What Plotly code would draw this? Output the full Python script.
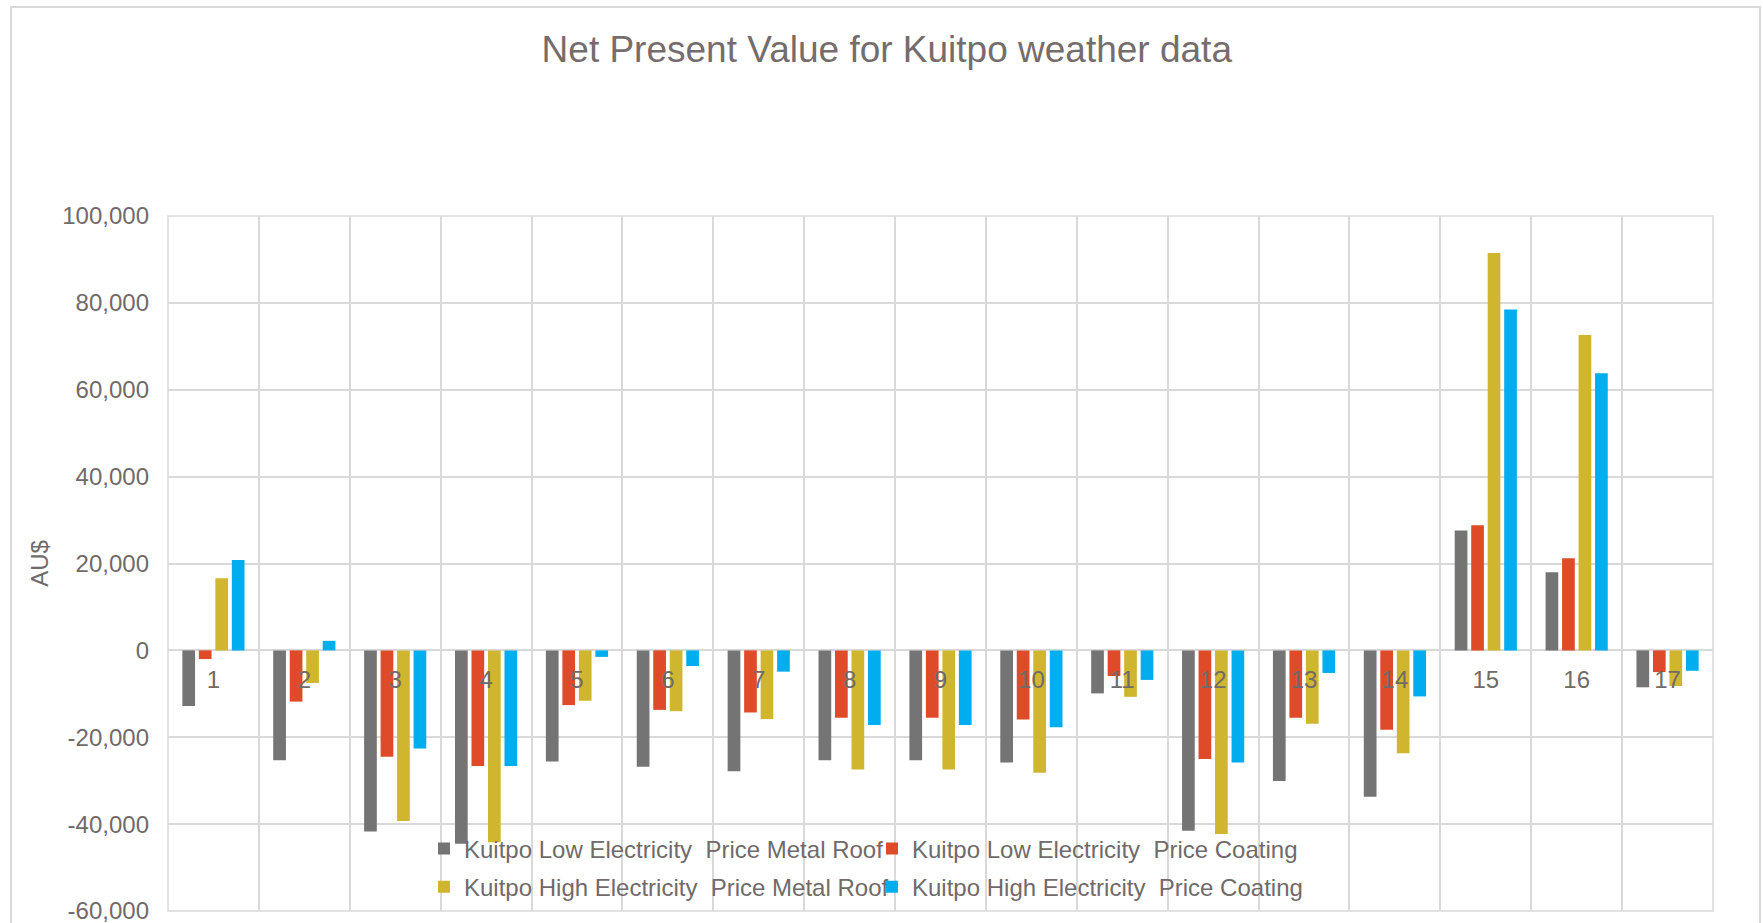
import plotly.graph_objects as go

# Scenario index on the x axis
categories = [str(i) for i in range(1, 18)]

# Net present value (AU$) per scenario
low_metal_roof = [-12800, -25300, -41700, -44500, -25600, -26800, -27800, -25300, -25300,
                  -25800, -9900, -41500, -30100, -33700, 27600, 18000, -8500]
low_coating = [-2000, -11800, -24500, -26600, -12600, -13700, -14300, -15500, -15500,
               -15900, -5900, -25000, -15500, -18300, 28800, 21200, -5000]
high_metal_roof = [16600, -7500, -39300, -44200, -11600, -14000, -15800, -27400, -27400,
                   -28200, -10700, -42300, -16900, -23700, 91500, 72600, -8200]
high_coating = [20800, 2200, -22600, -26600, -1500, -3600, -4900, -17200, -17200,
                -17700, -6800, -25800, -5200, -10600, 78500, 63800, -4700]

series_names = [
    "Kuitpo Low Electricity\u00a0\u00a0Price Metal Roof",
    "Kuitpo Low Electricity\u00a0\u00a0Price Coating",
    "Kuitpo High Electricity\u00a0\u00a0Price Metal Roof",
    "Kuitpo High Electricity\u00a0\u00a0Price Coating",
]

y_tick_values = [-60000, -40000, -20000, 0, 20000, 40000, 60000, 80000, 100000]
y_tick_labels = ["-60,000", "-40,000", "-20,000", "0", "20,000", "40,000",
                 "60,000", "80,000", "100,000"]

colors = ["#747474", "#DF4A29", "#D0B62F", "#00ADEE"]
text_color = "#716a6a"
grid_color = "#d9d9d9"
font_family = "Liberation Sans, Arial, sans-serif"

fig = go.Figure()
all_series = [low_metal_roof, low_coating, high_metal_roof, high_coating]
legend_ids = ["legend", "legend", "legend2", "legend2"]
for name, values, color, leg in zip(series_names, all_series, colors, legend_ids):
    fig.add_trace(go.Bar(
        x=categories, y=values, name=name,
        marker=dict(color=color, line=dict(width=0)),
        legend=leg,
    ))

legend_common = dict(
    orientation="h",
    x=0.1657, xanchor="left",
    bgcolor="rgba(0,0,0,0)",
    font=dict(family=font_family, size=24, color=text_color),
    entrywidth=403, entrywidthmode="pixels",
    itemclick=False, itemdoubleclick=False,
)

fig.update_layout(
    width=1763, height=923,
    margin=dict(l=168, r=50, t=216, b=12),
    paper_bgcolor="white",
    plot_bgcolor="white",
    barmode="group",
    bargap=0.274,
    bargroupgap=0.23,
    font=dict(family=font_family, color=text_color),
    title=dict(
        text="Net Present Value for Kuitpo weather data",
        font=dict(family=font_family, size=37, color="#756d6d"),
        x=0.503, xref="container", xanchor="center",
        y=1 - 49 / 923, yref="container", yanchor="middle",
    ),
    legend=dict(legend_common, y=0.0892, yanchor="middle"),
    legend2=dict(legend_common, y=0.002, yanchor="bottom"),
    xaxis=dict(
        type="category",
        anchor="free", position=0.375,
        automargin=False,
        showgrid=True, gridcolor=grid_color, gridwidth=1.5,
        tickson="boundaries",
        ticks="", showline=False, zeroline=False,
        tickfont=dict(family=font_family, size=24, color=text_color),
        ticklabelstandoff=13,
    ),
    yaxis=dict(
        range=[-60000, 100000],
        automargin=False,
        tickvals=y_tick_values, ticktext=y_tick_labels,
        ticklabeloverflow="allow",
        showgrid=True, gridcolor=grid_color, gridwidth=1.5,
        zeroline=False, showline=False, ticks="",
        tickfont=dict(family=font_family, size=24, color=text_color),
        ticklabelstandoff=18,
        title=dict(text="AU$", font=dict(family=font_family, size=24, color=text_color),
                   standoff=6),
    ),
    shapes=[
        # plot-area frame
        dict(type="rect", xref="paper", yref="paper", x0=0, x1=1, y0=0, y1=1,
             line=dict(color=grid_color, width=1.5), layer="below"),
        # outer chart frame
        dict(type="rect", xref="paper", yref="paper",
             x0=(11 - 168) / 1545, x1=(1760 - 168) / 1545,
             y0=(911 - 940) / 695, y1=(911 - 7) / 695,
             line=dict(color=grid_color, width=2), layer="below"),
    ],
)

fig.write_html("out.html")
